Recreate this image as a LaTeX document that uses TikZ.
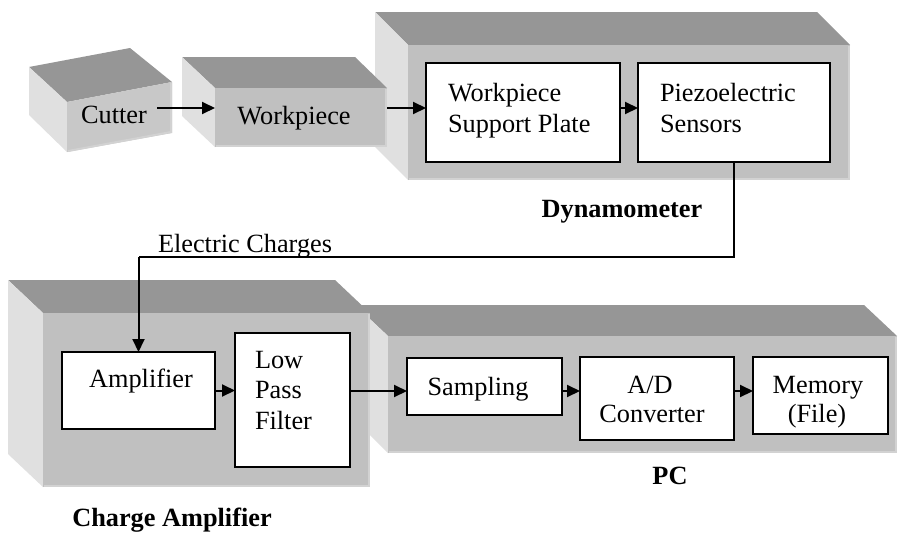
\documentclass[tikz,border=0pt]{standalone}
\usepackage{fontspec}
\setmainfont{Liberation Serif}
\usetikzlibrary{arrows.meta}
\definecolor{topc}{HTML}{969696}
\definecolor{frontc}{HTML}{C0C0C0}
\definecolor{sidec}{HTML}{E0E0E0}
\definecolor{cutc}{HTML}{C8C8C8}
\definecolor{hilite}{HTML}{D2D2D2}
\begin{document}
\begin{tikzpicture}[x=1pt,y=-1pt,
  every node/.style={font=\fontsize{26.3}{30}\selectfont, inner sep=0pt, outer sep=0pt},
  blk/.style={draw=black, line width=2pt, fill=white},
  arr/.style={line width=2pt, -{Triangle[length=13pt,width=12pt]}},
  topface/.style={fill=topc},
  sideface/.style={fill=sidec},
  frontface/.style={fill=frontc},
  edge/.style={draw=hilite, line width=2pt}]
\useasboundingbox (0,0) rectangle (899,533);
\fill[white] (0,0) rectangle (899,533);

% Dynamometer housing
\path[topface] (375,12) -- (817,12) -- (850,45) -- (408,45) -- cycle;
\path[sideface] (375,12) -- (408,45) -- (408,180) -- (375,147) -- cycle;
\path[frontface] (408,45) rectangle (850,180);
\draw[edge] (849,46) -- (849,179) -- (409,179);

% Workpiece
\path[topface] (182,57) -- (355,57) -- (387,88) -- (215,88) -- cycle;
\path[sideface] (182,57) -- (215,88) -- (215,147) -- (182,116) -- cycle;
\path[frontface] (215,88) rectangle (387,147);
\draw[edge] (386,89) -- (386,146) -- (216,146);

% Cutter
\path[topface] (29,67) -- (130,48) -- (172,82) -- (67,102) -- cycle;
\path[sideface] (29,67) -- (67,102) -- (67,152) -- (29,115) -- cycle;
\path[fill=cutc] (67,102) -- (172,82) -- (172,133) -- (67,152) -- cycle;
\draw[edge] (171,83) -- (171,132) -- (68,151);

% PC housing
\path[topface] (355,305) -- (864,305) -- (897,336) -- (388,336) -- cycle;
\path[sideface] (355,305) -- (388,336) -- (388,453) -- (355,420) -- cycle;
\path[frontface] (388,336) rectangle (897,453);
\draw[edge] (896,337) -- (896,452) -- (389,452);

% Charge amplifier housing
\path[topface] (8,280) -- (335,280) -- (370,313) -- (43,313) -- cycle;
\path[sideface] (8,280) -- (43,313) -- (43,487) -- (8,454) -- cycle;
\path[frontface] (43,313) rectangle (370,487);
\draw[edge] (369,314) -- (369,486) -- (44,486);

% Inner blocks
\node[blk, minimum width=194pt, minimum height=99pt] (wsp) at (523,112.5) {};
\node[blk, minimum width=192pt, minimum height=99pt] (piezo) at (734,112.5) {};
\node[blk, minimum width=153pt, minimum height=77pt] (amp) at (138.5,390.5) {};
\node[blk, minimum width=115pt, minimum height=134pt] (lpf) at (292.5,400) {};
\node[blk, minimum width=155pt, minimum height=57pt] (samp) at (484.5,386.5) {};
\node[blk, minimum width=154pt, minimum height=83pt] (adc) at (657,398.5) {};
\node[blk, minimum width=135pt, minimum height=77pt] (mem) at (820.5,395.5) {};

% Helper coordinates
\coordinate (row1) at (0,108);
\coordinate (row2) at (0,391);
\coordinate (cutterout) at (157,108);
\coordinate (wpout) at (387,108);
\coordinate (wpin) at (215,108);
\coordinate (bend) at (0,257);

% Connectors
\draw[arr] (cutterout) -- (wpin);
\draw[arr] (wpout) -- (wsp.west |- row1);
\draw[arr] (wsp.east |- row1) -- (piezo.west |- row1);
\draw[line width=2pt] (piezo.south) |- (amp.north |- bend);
\draw[arr] (amp.north |- bend) -- (amp.north);
\draw[arr] (amp.east) -- (amp.east -| lpf.west);
\draw[arr] (lpf.east |- row2) -- (samp.west |- row2);
\draw[arr] (samp.east |- row2) -- (adc.west |- row2);
\draw[arr] (adc.east |- row2) -- (mem.west |- row2);

% Texts
\node[anchor=base] (tcut) at (114,123) {Cutter};
\node[anchor=base] (twp) at (294,124) {Workpiece};
\node[anchor=base west] (twsp1) at (448,101) {Workpiece};
\node[anchor=base west] (twsp2) at (448,132) {Support Plate};
\node[anchor=base west] (tpz1) at (660,101) {Piezoelectric};
\node[anchor=base west] (tpz2) at (660,132) {Sensors};
\node[anchor=base, font=\fontsize{26.3}{30}\selectfont\bfseries] (tdyn) at (622,217) {Dynamometer};
\node[anchor=base west] (tec) at (158,252) {Electric Charges};
\node[anchor=base] (tamp) at (141,387) {Amplifier};
\node[anchor=base west] (tl1) at (255,368) {Low};
\node[anchor=base west] (tl2) at (255,398) {Pass};
\node[anchor=base west] (tl3) at (255,429) {Filter};
\node[anchor=base, font=\fontsize{26.3}{30}\selectfont\bfseries] (tca) at (172,526) {Charge Amplifier};
\node[anchor=base] (tsamp) at (478,395) {Sampling};
\node[anchor=base] (tad1) at (650,393) {A/D};
\node[anchor=base] (tad2) at (652,422) {Converter};
\node[anchor=base] (tmem1) at (818,393) {Memory};
\node[anchor=base] (tmem2) at (817,422) {(File)};
\node[anchor=base, font=\fontsize{26.3}{30}\selectfont\bfseries] (tpc) at (670,484) {PC};
\end{tikzpicture}
\end{document}
